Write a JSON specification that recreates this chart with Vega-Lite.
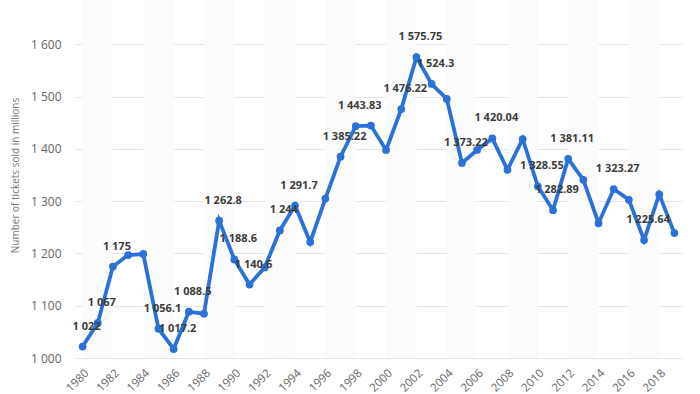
{
  "$schema": "https://vega.github.io/schema/vega-lite/v6.json",
  "width": 607,
  "height": 358,
  "autosize": {"type": "none"},
  "padding": {"left": 75, "top": 0, "right": 18, "bottom": 36},
  "background": "white",
  "config": {
    "view": {"stroke": null},
    "font": "Open Sans",
    "axis": {"labelFont": "Open Sans", "titleFont": "Open Sans"},
    "axisX": {
      "title": null,
      "values": [1980, 1982, 1984, 1986, 1988, 1990, 1992, 1994, 1996, 1998, 2000, 2002, 2004, 2006, 2008, 2010, 2012, 2014, 2016, 2018],
      "format": "d",
      "labelAngle": -45,
      "labelAlign": "right",
      "labelBaseline": "top",
      "labelPadding": 9,
      "labelFontSize": 11.5,
      "labelColor": "#666666",
      "labelOverlap": false,
      "labelBound": false,
      "grid": false,
      "domain": false,
      "ticks": false
    },
    "axisY": {
      "titleFontSize": 10,
      "titleFontWeight": "normal",
      "titleColor": "#777777",
      "titlePadding": 10,
      "titleY": 175,
      "values": [1000, 1100, 1200, 1300, 1400, 1500, 1600],
      "labelExpr": "replace(format(datum.value, ','), ',', ' ')",
      "labelFontSize": 12,
      "labelColor": "#666666",
      "labelPadding": 14,
      "grid": true,
      "gridColor": "#e4e4e4",
      "gridWidth": 1,
      "domain": false,
      "ticks": false
    }
  },
  "datasets": {
    "stripes": [
      {"start": 1980, "end": 1982}, {"start": 1984, "end": 1986}, {"start": 1988, "end": 1990},
      {"start": 1992, "end": 1994}, {"start": 1996, "end": 1998}, {"start": 2000, "end": 2002},
      {"start": 2004, "end": 2006}, {"start": 2008, "end": 2010}, {"start": 2012, "end": 2014},
      {"start": 2016, "end": 2018}
    ],
    "tickets": [
      {"year": 1980, "tickets": 1022, "label": "1 022"},
      {"year": 1981, "tickets": 1067, "label": "1 067"},
      {"year": 1982, "tickets": 1175, "label": "1 175"},
      {"year": 1983, "tickets": 1197, "label": ""},
      {"year": 1984, "tickets": 1199, "label": ""},
      {"year": 1985, "tickets": 1056.1, "label": "1 056.1"},
      {"year": 1986, "tickets": 1017.2, "label": "1 017.2"},
      {"year": 1987, "tickets": 1088.5, "label": "1 088.5"},
      {"year": 1988, "tickets": 1084.8, "label": ""},
      {"year": 1989, "tickets": 1262.8, "label": "1 262.8"},
      {"year": 1990, "tickets": 1188.6, "label": "1 188.6"},
      {"year": 1991, "tickets": 1140.6, "label": "1 140.6"},
      {"year": 1992, "tickets": 1173.2, "label": ""},
      {"year": 1993, "tickets": 1244, "label": "1 244"},
      {"year": 1994, "tickets": 1291.7, "label": "1 291.7"},
      {"year": 1995, "tickets": 1221.8, "label": ""},
      {"year": 1996, "tickets": 1305, "label": ""},
      {"year": 1997, "tickets": 1385.22, "label": "1 385.22"},
      {"year": 1998, "tickets": 1443.83, "label": "1 443.83"},
      {"year": 1999, "tickets": 1444.7, "label": ""},
      {"year": 2000, "tickets": 1398, "label": ""},
      {"year": 2001, "tickets": 1476.22, "label": "1 476.22"},
      {"year": 2002, "tickets": 1575.75, "label": "1 575.75"},
      {"year": 2003, "tickets": 1524.3, "label": "1 524.3"},
      {"year": 2004, "tickets": 1495.7, "label": ""},
      {"year": 2005, "tickets": 1373.22, "label": "1 373.22"},
      {"year": 2006, "tickets": 1398, "label": ""},
      {"year": 2007, "tickets": 1420.04, "label": "1 420.04"},
      {"year": 2008, "tickets": 1360, "label": ""},
      {"year": 2009, "tickets": 1419, "label": ""},
      {"year": 2010, "tickets": 1328.55, "label": "1 328.55"},
      {"year": 2011, "tickets": 1282.89, "label": "1 282.89"},
      {"year": 2012, "tickets": 1381.11, "label": "1 381.11"},
      {"year": 2013, "tickets": 1341, "label": ""},
      {"year": 2014, "tickets": 1258, "label": ""},
      {"year": 2015, "tickets": 1323.27, "label": "1 323.27"},
      {"year": 2016, "tickets": 1302.7, "label": ""},
      {"year": 2017, "tickets": 1225.64, "label": "1 225.64"},
      {"year": 2018, "tickets": 1313, "label": ""},
      {"year": 2019, "tickets": 1239, "label": ""}
    ]
  },
  "layer": [
    {
      "data": {"name": "stripes"},
      "mark": {"type": "rect", "color": "#fbfbfb", "opacity": 1},
      "encoding": {
        "x": {"field": "start", "type": "quantitative", "title": null, "scale": {"domain": [1979.5, 2019.5], "nice": false, "zero": false}},
        "x2": {"field": "end"}
      }
    },
    {
      "data": {"name": "tickets"},
      "mark": {"type": "line", "color": "#2a72d8", "strokeWidth": 3.8, "point": {"filled": true, "size": 60, "color": "#2a72d8"}},
      "encoding": {
        "x": {"field": "year", "type": "quantitative", "title": null, "scale": {"domain": [1979.5, 2019.5], "nice": false, "zero": false}},
        "y": {"field": "tickets", "type": "quantitative", "title": "Number of tickets sold in millions", "scale": {"domain": [1000, 1685], "nice": false, "zero": false}}
      }
    },
    {
      "data": {"name": "tickets"},
      "transform": [{"filter": "datum.label != ''"}],
      "mark": {"type": "text", "dy": -20, "dx": 4, "fontWeight": "bold", "fontSize": 11, "color": "#3c3c3c", "font": "Open Sans"},
      "encoding": {
        "x": {"field": "year", "type": "quantitative", "title": null},
        "y": {"field": "tickets", "type": "quantitative", "title": "Number of tickets sold in millions"},
        "text": {"field": "label"}
      }
    }
  ]
}
